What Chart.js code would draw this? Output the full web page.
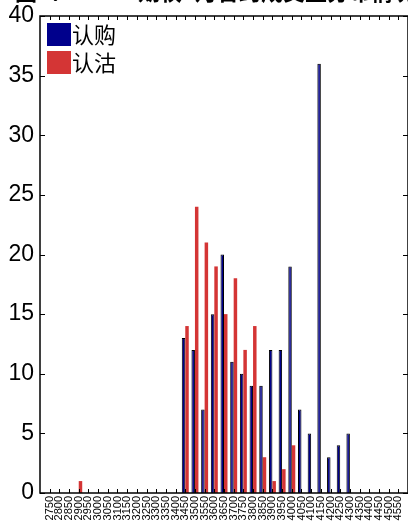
<!DOCTYPE html>
<html>
<head>
<meta charset="utf-8">
<script src="https://cdn.jsdelivr.net/npm/chart.js@4/dist/chart.umd.min.js"></script>
<style>
    html, body { margin: 0; padding: 0; background: #fff; overflow: hidden; }
    #wrap { width: 408px; height: 523px; position: relative; }
    canvas { display: block; }
</style>
</head>
<body>
<div id="wrap"><canvas id="strikeChart"></canvas></div>
<script>
// Strike prices (x categories)
const strikes = [2750, 2800, 2850, 2900, 2950, 3000, 3050, 3100, 3150, 3200,
    3250, 3300, 3350, 3400, 3450, 3500, 3550, 3600, 3650, 3700,
    3750, 3800, 3850, 3900, 3950, 4000, 4050, 4100, 4150, 4200,
    4250, 4300, 4350, 4400, 4450, 4500, 4550];

// 认购 counts
const callCounts = [0, 0, 0, 0, 0, 0, 0, 0, 0, 0,
    0, 0, 0, 0, 13, 12, 7, 15, 20, 11,
    10, 9, 9, 12, 12, 19, 7, 5, 36, 3,
    4, 5, 0, 0, 0, 0, 0];

// 认沽 counts
const putCounts = [0, 0, 0, 1, 0, 0, 0, 0, 0, 0,
    0, 0, 0, 0, 14, 24, 21, 19, 15, 18,
    12, 14, 3, 1, 2, 4, 0, 0, 0, 0,
    0, 0, 0, 0, 0, 0, 0];

const yTicks = [0, 5, 10, 15, 20, 25, 30, 35, 40];
const seriesNames = ['认购', '认沽'];
const titleText = '图3：50ETF期权5月合约成交量分布情况';

const blue = '#00008c';
const red = '#d43535';

// box, inward ticks, legend and clipped title
const framePlugin = {
    id: 'frame',
    afterDraw(chart) {
        const ctx = chart.ctx;
        const a = chart.chartArea;
        const xs = chart.scales.x;
        const ys = chart.scales.y;
        ctx.save();
        ctx.strokeStyle = '#000';
        ctx.lineWidth = 1;
        strikes.forEach(s => {
            const px = Math.round(xs.getPixelForValue(s)) + 0.5;
            ctx.beginPath();
            ctx.moveTo(px, a.bottom);
            ctx.lineTo(px, a.bottom - 4);
            ctx.moveTo(px, a.top);
            ctx.lineTo(px, a.top + 4);
            ctx.stroke();
        });
        yTicks.forEach(v => {
            const py = Math.round(ys.getPixelForValue(v)) + 0.5;
            ctx.beginPath();
            ctx.moveTo(a.left, py);
            ctx.lineTo(a.left + 5, py);
            ctx.moveTo(a.right, py);
            ctx.lineTo(a.right - 5, py);
            ctx.stroke();
        });
        ctx.lineWidth = 1.5;
        ctx.strokeRect(a.left, a.top, a.right - a.left, a.bottom - a.top);

        // legend
        const colors = [blue, red];
        ctx.font = '22px "Noto Sans CJK SC"';
        ctx.textBaseline = 'middle';
        ctx.textAlign = 'left';
        for (let i = 0; i < 2; i++) {
            const y0 = 23 + i * 28;
            ctx.fillStyle = colors[i];
            ctx.fillRect(47, y0, 24, 23);
            ctx.fillStyle = '#000';
            ctx.fillText(seriesNames[i], 72, y0 + 12);
        }

        // title, mostly cut off at the top
        ctx.font = 'bold 22px "Noto Sans CJK SC"';
        ctx.textAlign = 'center';
        ctx.textBaseline = 'alphabetic';
        ctx.fillText(titleText, 215, 0);
        ctx.restore();
    }
};

function initChart() {
    const ctx = document.getElementById('strikeChart').getContext('2d');
    new Chart(ctx, {
        type: 'bar',
        data: {
            datasets: [{
                label: seriesNames[0],
                data: strikes.map((s, i) => ({ x: s, y: callCounts[i] })),
                backgroundColor: blue,
                borderColor: '#000',
                borderWidth: 1
            }, {
                label: seriesNames[1],
                data: strikes.map((s, i) => ({ x: s, y: putCounts[i] })),
                backgroundColor: red,
                borderWidth: 0
            }]
        },
        options: {
            responsive: true,
            maintainAspectRatio: false,
            animation: false,
            categoryPercentage: 0.72,
            barPercentage: 1.0,
            layout: { padding: { top: 16, right: 0, left: 0, bottom: 0 } },
            plugins: {
                legend: { display: false },
                tooltip: { enabled: false }
            },
            scales: {
                x: {
                    type: 'linear',
                    offset: false,
                    min: 2700,
                    max: 4600,
                    grid: { display: false, drawTicks: false },
                    border: { display: false },
                    afterFit(scale) {
                        scale.height = 30;
                        scale.paddingLeft = 0;
                        scale.paddingRight = 0;
                    },
                    ticks: {
                        stepSize: 50,
                        autoSkip: false,
                        maxRotation: 90,
                        minRotation: 90,
                        padding: 3,
                        color: '#000',
                        font: { family: 'Liberation Sans', size: 11 },
                        callback: v => (v === 2700 || v === 4600) ? '' : String(v)
                    }
                },
                y: {
                    min: 0,
                    max: 40,
                    grid: { display: false, drawTicks: false },
                    border: { display: false },
                    afterFit(scale) {
                        scale.width = 40;
                        scale.paddingTop = 0;
                        scale.paddingBottom = 0;
                    },
                    ticks: {
                        stepSize: 5,
                        padding: 6,
                        color: '#000',
                        font: { family: 'Liberation Sans', size: 23 }
                    }
                }
            }
        },
        plugins: [framePlugin]
    });
}

document.addEventListener('DOMContentLoaded', function () {
    initChart();
});
</script>
</body>
</html>
